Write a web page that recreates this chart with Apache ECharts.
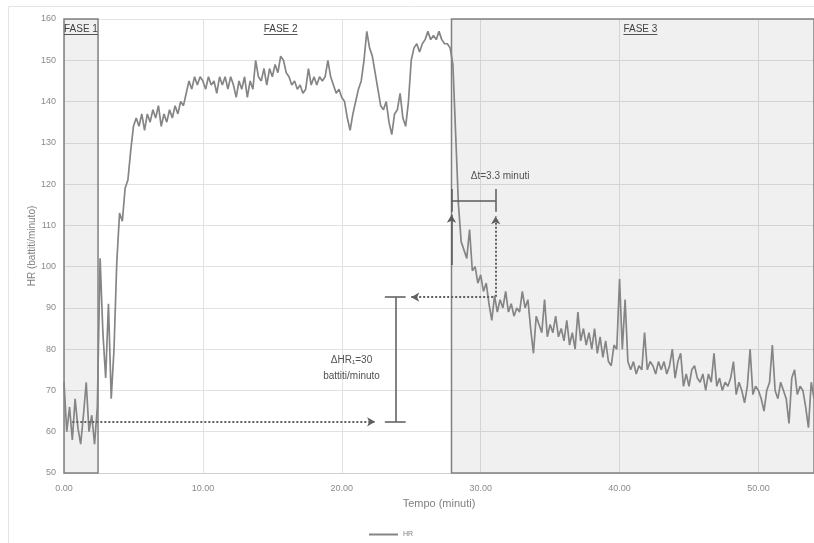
<!DOCTYPE html>
<html>
<head>
<meta charset="utf-8">
<style>html,body{margin:0;padding:0;background:#fff}#c{width:814px;height:543px}</style>
<script src="https://cdn.jsdelivr.net/npm/echarts@6/dist/echarts.min.js"></script>
</head>
<body>
<div id="c"></div>
<script>
// Time in minutes
const minutes = [
0,0.2,0.4,0.6,0.8,1,1.2,1.4,1.6,1.8,
2,2.2,2.4,2.6,2.8,3,3.2,3.4,3.6,3.8,
4,4.2,4.4,4.6,4.8,5,5.2,5.4,5.6,5.8,
6,6.2,6.4,6.6,6.8,7,7.2,7.4,7.6,7.8,
8,8.2,8.4,8.6,8.8,9,9.2,9.4,9.6,9.8,
10,10.2,10.4,10.6,10.8,11,11.2,11.4,11.6,11.8,
12,12.2,12.4,12.6,12.8,13,13.2,13.4,13.6,13.8,
14,14.2,14.4,14.6,14.8,15,15.2,15.4,15.6,15.8,
16,16.2,16.4,16.6,16.8,17,17.2,17.4,17.6,17.8,
18,18.2,18.4,18.6,18.8,19,19.2,19.4,19.6,19.8,
20,20.2,20.4,20.6,20.8,21,21.2,21.4,21.6,21.8,
22,22.2,22.4,22.6,22.8,23,23.2,23.4,23.6,23.8,
24,24.2,24.4,24.6,24.8,25,25.2,25.4,25.6,25.8,
26,26.2,26.4,26.6,26.8,27,27.2,27.4,27.6,27.8,
28,28.2,28.4,28.6,28.8,29,29.2,29.4,29.6,29.8,
30,30.2,30.4,30.6,30.8,31,31.2,31.4,31.6,31.8,
32,32.2,32.4,32.6,32.8,33,33.2,33.4,33.6,33.8,
34,34.2,34.4,34.6,34.8,35,35.2,35.4,35.6,35.8,
36,36.2,36.4,36.6,36.8,37,37.2,37.4,37.6,37.8,
38,38.2,38.4,38.6,38.8,39,39.2,39.4,39.6,39.8,
40,40.2,40.4,40.6,40.8,41,41.2,41.4,41.6,41.8,
42,42.2,42.4,42.6,42.8,43,43.2,43.4,43.6,43.8,
44,44.2,44.4,44.6,44.8,45,45.2,45.4,45.6,45.8,
46,46.2,46.4,46.6,46.8,47,47.2,47.4,47.6,47.8,
48,48.2,48.4,48.6,48.8,49,49.2,49.4,49.6,49.8,
50,50.2,50.4,50.6,50.8,51,51.2,51.4,51.6,51.8,
52,52.2,52.4,52.6,52.8,53,53.2,53.4,53.6,53.8,
54
];
// Heart rate (battiti/minuto)
const hr = [
72,60,66,58,68,61,57,64,72,60,
64,57,66,102,84,73,91,68,80,101,
113,111,119,121,128,134,136,134,137,133,
137,135,138,136,139,134,137,135,138,136,
139,137,140,139,142,145,143,146,144,146,
145,143,146,144,145,142,146,144,146,143,
146,144,141,145,143,146,141,145,143,150,
146,145,148,144,148,146,149,147,151,150,
147,146,144,145,143,144,142,143,148,144,
146,144,146,145,146,150,146,144,142,143,
141,140,136,133,137,140,143,145,150,157,
153,151,147,143,139,138,140,135,132,137,
138,142,136,134,140,150,153,154,152,154,
155,157,155,156,155,157,155,154,154,153,
149,132,115,106,104,102,109,99,100,96,
98,94,96,91,87,93,89,92,90,94,
89,91,88,90,89,94,90,92,85,79,
88,86,84,92,83,86,84,88,83,85,
82,87,81,84,80,89,82,85,81,84,
80,85,79,83,78,82,77,76,81,80,
97,80,92,77,75,77,74,76,75,84,
75,77,76,74,77,75,77,74,76,80,
73,77,79,71,74,71,75,76,73,72,
74,70,74,72,79,71,73,70,72,71,
73,77,69,72,70,67,71,80,69,71,
70,68,65,70,72,81,70,68,72,70,
68,62,73,75,69,71,70,66,61,72,
68
];
const phaseNames = ['FASE 1', 'FASE 2', 'FASE 3'];
const phaseBounds = [[0, 2.45], [2.45, 27.9], [27.9, 54]];
const phaseLabelX = [1.22, 15.6, 41.5];
const yTicks = {min: 50, max: 160, interval: 10};
const xTicks = {min: 0, max: 54, interval: 10};

const FONT = 'Liberation Sans';
const chart = echarts.init(document.getElementById('c'));

const dotted = {type: 'dotted', color: '#606060', width: 2};
const solid = {type: 'solid', color: '#5a5a5a', width: 1.5};
function seg(a, b, style, endSym) {
  return [
    {coord: a, symbol: 'none', lineStyle: style},
    {coord: b, symbol: endSym || 'none'}
  ];
}
const ulY = 156.2, labY = 157.6;
const markLines = [
  seg([0.6, 62.4], [22.4, 62.4], dotted, 'arrow'),
  seg([23.85, 62.4], [23.85, 92.6], solid),
  seg([23.1, 62.4], [24.6, 62.4], solid),
  seg([23.1, 92.6], [24.6, 92.6], solid),
  seg([30.9, 92.6], [25.0, 92.6], dotted, 'arrow'),
  seg([27.9, 100.4], [27.9, 112.6], solid, 'arrow'),
  seg([31.08, 92.7], [31.08, 112.2], dotted, 'arrow'),
  seg([27.9, 116], [31.08, 116], solid),
  seg([27.9, 113.3], [27.9, 118.8], solid),
  seg([31.08, 113.3], [31.08, 118.8], solid)
];
phaseLabelX.forEach(function (x) {
  markLines.push(seg([x - 1.22, ulY], [x + 1.22, ulY], {type: 'solid', color: '#555', width: 1}));
});

const markPoints = phaseNames.map(function (n, i) {
  return {coord: [phaseLabelX[i], labY], value: n,
    label: {formatter: n, fontSize: 10, color: '#404040', fontFamily: FONT}};
});
markPoints.push({coord: [31.4, 121.8], value: 'dt',
  label: {formatter: '\u0394t=3.3 minuti', fontSize: 10, color: '#505050', fontFamily: FONT}});
markPoints.push({coord: [20.7, 75.4], value: 'dhr',
  label: {formatter: '\u0394HR\u2081=30\nbattiti/minuto', fontSize: 10, lineHeight: 16, color: '#505050', fontFamily: FONT, align: 'center'}});

chart.setOption({
  animation: false,
  graphic: [{type: 'rect', shape: {x: 8.5, y: 6.5, width: 900, height: 700},
    style: {fill: 'none', stroke: '#e4e4e4', lineWidth: 1}, z: -10}],
  grid: {left: 64, top: 19, right: 0, bottom: 70},
  legend: {
    left: 364, top: 526, itemWidth: 29, itemHeight: 2, itemGap: 4,
    textStyle: {fontSize: 7, color: '#7f7f7f', fontFamily: FONT},
    data: [{name: 'HR', icon: 'rect', itemStyle: {color: '#858585'}}]
  },
  xAxis: {
    type: 'value', min: xTicks.min, max: xTicks.max, interval: xTicks.interval,
    name: 'Tempo (minuti)', nameLocation: 'middle', nameGap: 25,
    nameTextStyle: {fontSize: 11, color: '#7f7f7f', fontFamily: FONT},
    axisLine: {show: true, lineStyle: {color: '#d0d0d0', width: 1}},
    axisTick: {show: false},
    axisLabel: {fontSize: 9, color: '#8a8a8a', fontFamily: FONT, margin: 11, showMaxLabel: false,
      formatter: function (v) { return v.toFixed(2); }},
    splitLine: {show: true, lineStyle: {color: '#e2e2e2', width: 1}}
  },
  yAxis: {
    type: 'value', min: yTicks.min, max: yTicks.max, interval: yTicks.interval,
    name: 'HR (battiti/minuto)', nameLocation: 'middle', nameGap: 27, nameMoveOverlap: false,
    nameTextStyle: {fontSize: 10, color: '#7f7f7f', fontFamily: FONT},
    axisLine: {show: false}, axisTick: {show: false},
    axisLabel: {fontSize: 9, color: '#8a8a8a', fontFamily: FONT, margin: 8},
    splitLine: {show: true, lineStyle: {color: '#e2e2e2', width: 1}}
  },
  series: [{
    name: 'HR', type: 'line', symbol: 'none', showSymbol: false,
    data: minutes.map(function (t, i) { return [t, hr[i]]; }),
    lineStyle: {color: '#858585', width: 1.7},
    itemStyle: {color: '#858585'},
    markArea: {
      silent: true,
      itemStyle: {color: 'rgba(0,0,0,0.06)', borderColor: '#808080', borderWidth: 1.5},
      data: [
        [{xAxis: phaseBounds[0][0], yAxis: 50}, {xAxis: phaseBounds[0][1], yAxis: 160}],
        [{xAxis: phaseBounds[2][0], yAxis: 50}, {xAxis: phaseBounds[2][1], yAxis: 160}]
      ]
    },
    markLine: {
      silent: true, symbolSize: [7, 8], label: {show: false},
      data: markLines
    },
    markPoint: {
      silent: true, symbol: 'rect', symbolSize: 1,
      itemStyle: {color: 'rgba(0,0,0,0)'},
      label: {show: true, position: 'inside'},
      data: markPoints
    }
  }]
});
</script>
</body>
</html>
